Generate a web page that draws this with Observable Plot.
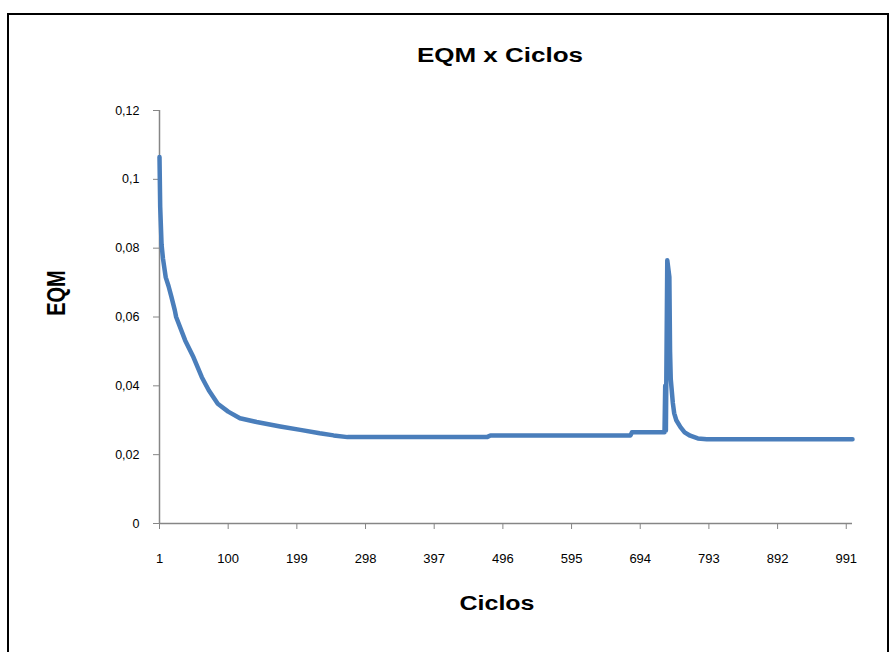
<!DOCTYPE html>
<html>
<head>
<meta charset="utf-8">
<script src="https://cdn.jsdelivr.net/npm/d3@7"></script>
<script src="https://cdn.jsdelivr.net/npm/@observablehq/plot@0.6"></script>
<style>
  html, body { margin: 0; padding: 0; background: #fff; overflow: hidden; }
  #wrap { position: relative; width: 890px; height: 652px; overflow: hidden; }
  #frame { position: absolute; left: 7px; top: 13px; width: 882px; height: 700px; box-sizing: border-box; border: 2px solid #000; }
  #chart { position: absolute; left: 0; top: 0; }
  .lbl { position: absolute; font-family: "Liberation Sans", Arial, sans-serif; font-weight: bold; color: #000; white-space: nowrap; }
  #title { left: 500px; top: 44px; font-size: 20px; transform: translateX(-50%) scaleX(1.3); }
  #xtitle { left: 497px; top: 592px; font-size: 20px; transform: translateX(-50%) scaleX(1.25); }
  #ytitle { left: 57px; top: 293px; font-size: 20px; transform: translate(-50%, -50%) rotate(-90deg) scaleY(1.3); }
</style>
</head>
<body>
<div id="wrap">
  <div id="frame"></div>
  <div id="chart"></div>
  <div class="lbl" id="title">EQM x Ciclos</div>
  <div class="lbl" id="xtitle">Ciclos</div>
  <div class="lbl" id="ytitle">EQM</div>
</div>
<script>
const cycles = [1, 2, 4, 6, 10, 14, 18, 23, 25, 38, 50, 62, 72, 85, 100, 117, 141, 175, 204, 232, 252, 272, 473, 478, 680, 682, 729, 730, 731, 733, 736, 737, 738, 741, 743, 746, 752, 758, 766, 777, 790, 1000];
const eqm = [0.1065, 0.092, 0.081, 0.077, 0.0715, 0.069, 0.066, 0.062, 0.060, 0.0532, 0.0483, 0.0425, 0.0387, 0.0348, 0.0325, 0.0306, 0.0295, 0.0282, 0.0272, 0.0262, 0.0256, 0.0251, 0.0251, 0.0256, 0.0256, 0.0265, 0.0265, 0.040, 0.027, 0.0765, 0.0716, 0.050, 0.042, 0.035, 0.032, 0.030, 0.028, 0.0265, 0.0255, 0.0247, 0.0245, 0.0245];
const xTicks = [1, 100, 199, 298, 397, 496, 595, 694, 793, 892, 991];
const yTicks = [0, 0.02, 0.04, 0.06, 0.08, 0.1, 0.12];
const yTickLabels = ["0", "0,02", "0,04", "0,06", "0,08", "0,1", "0,12"];

const data = cycles.map((c, i) => ({cycle: c, eqm: eqm[i]}));
const axisColor = "#868686";

const chart = Plot.plot({
  width: 890,
  height: 652,
  marginLeft: 159,
  marginRight: 38,
  marginTop: 110,
  marginBottom: 129,
  style: {fontFamily: "'Liberation Sans', Arial, sans-serif", fontSize: "12px", color: "#000", background: "transparent"},
  x: {domain: [1, 1000], label: null},
  y: {domain: [0, 0.12], label: null},
  marks: [
    Plot.ruleY([0], {stroke: axisColor, strokeWidth: 1.5}),
    Plot.ruleX([1], {stroke: axisColor, strokeWidth: 1.5}),
    Plot.axisX({ticks: xTicks, tickSize: 6, tickPadding: 24, stroke: axisColor, fill: "#000", fontSize: 13, tickFormat: d => String(d)}),
    Plot.axisY({ticks: yTicks, tickSize: 6, tickPadding: 14, stroke: axisColor, fill: "#000", fontSize: 12.5, tickFormat: d => yTickLabels[yTicks.indexOf(d)]}),
    Plot.line(data, {x: "cycle", y: "eqm", stroke: "#4A7EBB", strokeWidth: 4.5, strokeLinejoin: "round", strokeLinecap: "round"})
  ]
});
document.getElementById("chart").appendChild(chart);
</script>
</body>
</html>
